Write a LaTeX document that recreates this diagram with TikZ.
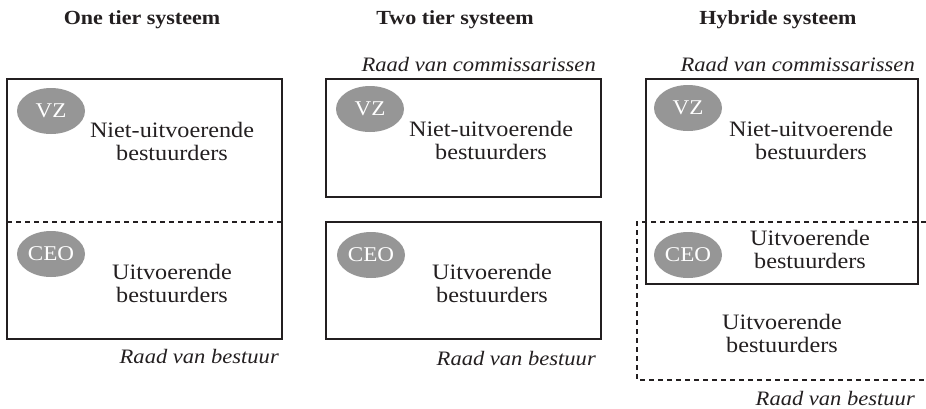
\documentclass[tikz,border=0pt]{standalone}
\usepackage{fontspec}
\setmainfont[FakeStretch=1.1]{Liberation Serif}
\usetikzlibrary{shapes.geometric}
\definecolor{ink}{HTML}{231F20}
\definecolor{ellgray}{HTML}{969696}
\begin{document}
\begin{tikzpicture}[x=1pt,y=-1pt,
  frame/.style={draw=ink, line width=1.6pt},
  dashframe/.style={draw=ink, line width=1.5pt, dash pattern=on 5pt off 4pt},
  role/.style={ellipse, fill=ellgray, minimum width=68pt, minimum height=46pt, inner sep=0pt,
    text=white, font=\fontsize{21}{22}\selectfont},
  body/.style={align=center, inner sep=0pt, text=ink, font=\fontsize{22}{23}\selectfont},
  ital/.style={inner sep=0pt, text=ink, font=\itshape\fontsize{20.5}{22}\selectfont},
  title/.style={inner sep=0pt, text=ink, anchor=base, font=\bfseries\fontsize{20}{22}\selectfont}]
\useasboundingbox (0,0) rectangle (926,408);

% titles
\node[title] (t1) at (142,24) {One tier systeem};
\node[title] (t2) at (455,24) {Two tier systeem};
\node[title] (t3) at (778,24) {Hybride systeem};

% ---------- panel 1 ----------
\coordinate (a1) at (7,79);
\coordinate (a2) at (282,339);
\coordinate (d1) at (7,222);
\coordinate (d2) at (282,222);
\draw[frame] (a1) rectangle (a2);
\draw[dashframe] (d1) -- (d2);
\node[role] (vz1) at (51,111) {VZ};
\node[role] (ceo1) at (51,254) {CEO};
\node[body] (n1) at (172,141) {Niet-uitvoerende\\bestuurders};
\node[body] (u1) at (172,283) {Uitvoerende\\bestuurders};
\node[ital, anchor=east] (r1) at (279,356) {Raad van bestuur};

% ---------- panel 2 ----------
\coordinate (b1) at (326,79);
\coordinate (b2) at (601,197);
\coordinate (b3) at (326,222);
\coordinate (b4) at (601,339);
\draw[frame] (b1) rectangle (b2);
\draw[frame] (b3) rectangle (b4);
\node[ital, anchor=east] (c2) at (596,64) {Raad van commissarissen};
\node[role] (vz2) at (370,109) {VZ};
\node[role] (ceo2) at (371,255) {CEO};
\node[body] (n2) at (491,140) {Niet-uitvoerende\\bestuurders};
\node[body] (u2) at (492,283) {Uitvoerende\\bestuurders};
\node[ital, anchor=east] (r2) at (596,358) {Raad van bestuur};

% ---------- panel 3 ----------
\coordinate (h1) at (646,79);
\coordinate (h2) at (918,284);
\coordinate (e1) at (926,222);
\coordinate (e2) at (637,222);
\coordinate (e3) at (637,380);
\coordinate (e4) at (926,380);
\draw[frame] (h1) rectangle (h2);
\draw[dashframe] (e1) -- (e2) -- (e3) -- (e4);
\node[ital, anchor=east] (c3) at (915,64) {Raad van commissarissen};
\node[role] (vz3) at (688,108) {VZ};
\node[role] (ceo3) at (688,255) {CEO};
\node[body] (n3) at (811,140) {Niet-uitvoerende\\bestuurders};
\node[body] (u3) at (810,249) {Uitvoerende\\bestuurders};
\node[body] (u4) at (782,333) {Uitvoerende\\bestuurders};
\node[ital, anchor=east] (r3) at (915,398) {Raad van bestuur};
\end{tikzpicture}
\end{document}
